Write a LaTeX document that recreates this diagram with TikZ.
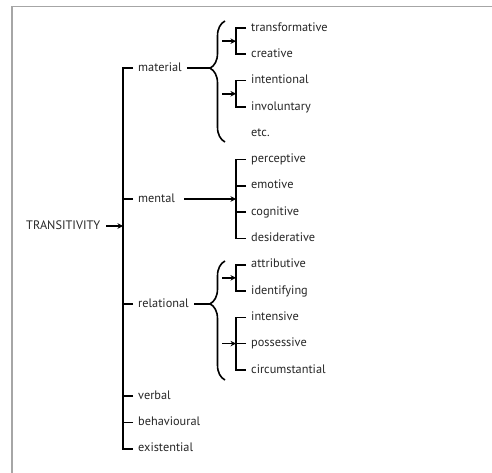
\documentclass[tikz,border=0pt]{standalone}
\usepackage{fontspec}
\setmainfont{PT Sans}
\usetikzlibrary{arrows.meta,calc,decorations.pathreplacing}

\tikzset{
  term/.style={anchor=west,inner sep=0pt,text height=1.55ex,text depth=.3ex,
    text=black!85,font=\fontsize{12.3}{14}\selectfont},
  tree/.style={line width=1.6pt},
  arr/.style={tree,-{Stealth[length=5.5pt,width=5.5pt]}},
  brc/.style={tree,decoration={brace,amplitude=15pt,aspect=#1},decorate}
}

\begin{document}
\begin{tikzpicture}[x=1pt,y=-1pt]
\useasboundingbox (0,0) rectangle (492,473);
% cadre
\draw[black!35,line width=1.6pt] (11.7,473) -- (11.7,6.7) -- (492,6.7);

% les termes
\node[term] (trans) at (26,226) {TRANSITIVITY};
\node[term] (mat) at (138,68) {material};
\node[term] (men) at (138,199) {mental};
\node[term] (rel) at (138,304) {relational};
\foreach \n/\t [count=\i from 0] in {tra/transformative,cre/creative,
    inte/intentional,inv/involuntary,etc/etc.,per/perceptive,emo/emotive,
    cog/cognitive,des/desiderative,att/attributive,ide/identifying,
    ints/intensive,pos/possessive,cir/circumstantial}
  \node[term] (\n) at (251,28+26.3*\i) {\t};
\foreach \n/\t [count=\i from 14] in {ver/verbal,beh/behavioural,exi/existential}
  \node[term] (\n) at (138,28+26.3*\i) {\t};

% premier niveau
\coordinate (bar) at ([xshift=-15pt]mat.west);
\draw[arr] ([xshift=6pt]trans.east) -- (bar |- trans.east);
\draw[tree] ([xshift=-5pt]mat.west) -- (bar) |- ([xshift=-5pt]exi.west);
\foreach \n in {men,rel,ver,beh}
  \draw[tree] ([xshift=-5pt]\n.west) -- (bar |- \n.west);

% material
\draw[brc=0.61] (225,142) -- (225,21);
\draw[tree] ([xshift=5pt]mat.east) -- (210,68);
\foreach \a/\b in {tra/cre,inte/inv}{
  \draw[tree] ([xshift=-5pt]\a.west) -- ++(-10,0) |- ([xshift=-5pt]\b.west);
  \draw[arr] ($(\a.west)!.5!(\b.west)+(-29,0)$) -- ($(\a.west)!.5!(\b.west)+(-15,0)$);
}

% mental
\draw[tree] ([xshift=-5pt]per.west) -- ++(-10,0) |- ([xshift=-5pt]des.west);
\foreach \n in {emo,cog}
  \draw[tree] ([xshift=-5pt]\n.west) -- ++(-10,0);
\draw[arr] ([xshift=9pt]men.east) -- ([xshift=-15pt]per.west |- men.east);

% relational
\draw[brc=0.64] (225,380) -- (225,261);
\draw[tree] ([xshift=5pt]rel.east) -- (210,304);
\draw[tree] ([xshift=-5pt]att.west) -- ++(-10,0) |- ([xshift=-5pt]ide.west);
\draw[arr] ($(att.west)!.5!(ide.west)+(-29,0)$) -- ($(att.west)!.5!(ide.west)+(-15,0)$);
\draw[tree] ([xshift=-5pt]ints.west) -- ++(-10,0) |- ([xshift=-5pt]cir.west);
\draw[tree] ([xshift=-5pt]pos.west) -- ++(-10,0);
\draw[arr] ([xshift=-29pt]pos.west) -- ([xshift=-15pt]pos.west);
\end{tikzpicture}
\end{document}
